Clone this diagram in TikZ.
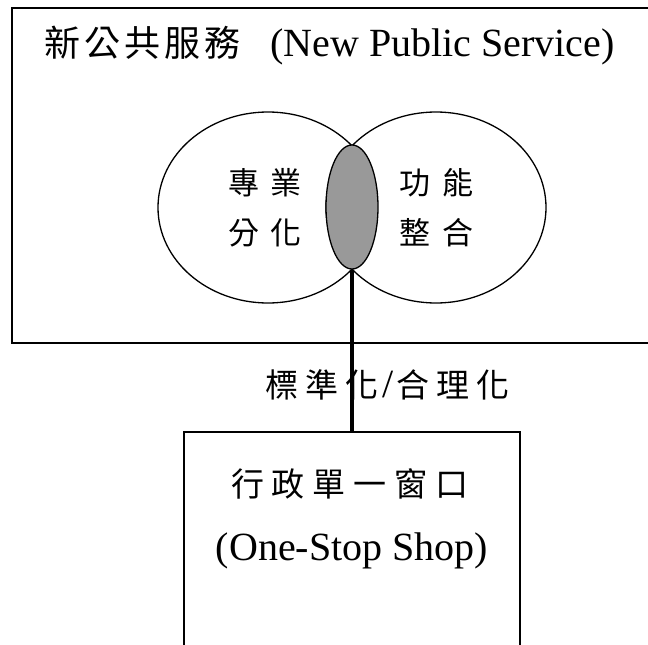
\documentclass[tikz,border=0pt]{standalone}
\usepackage{fontspec}
\setmainfont{Liberation Serif}
\newfontfamily\cjk{Noto Sans CJK TC}
\usetikzlibrary{shapes.geometric}
\definecolor{lensgray}{RGB}{153,153,153}
\makeatletter
\newcommand\spreadcjk[2]{\def\sc@w{#1}\sc@loop#2\@nil}
\def\sc@loop#1{\ifx#1\@nil\else\makebox[\sc@w]{#1}\expandafter\sc@loop\fi}
\makeatother
\tikzset{
  frame/.style={draw, line width=1.3pt, rectangle, inner sep=0pt},
  oval/.style={draw, line width=1.3pt, ellipse, inner sep=0pt, fill=white,
               minimum width=220pt, minimum height=191pt},
  lensnode/.style={draw, line width=1.3pt, ellipse, inner sep=0pt, fill=lensgray,
               minimum width=52pt, minimum height=124pt},
  cjktext/.style={inner sep=0pt, font=\cjk\fontsize{31}{36}\selectfont},
  link/.style={line width=3.5pt}
}
\begin{document}
\begin{tikzpicture}[x=1pt,y=-1pt]
\useasboundingbox (0,0) rectangle (648,645);
\clip (0,0) rectangle (648,645);
% outer frame
\node[frame, minimum width=658pt, minimum height=335pt] (nps) at (341,175.5) {};
\node[inner sep=0pt, anchor=base west] (title) at (42,56)
  {{\cjk\fontsize{36}{40}\selectfont\spreadcjk{40pt}{新公共服務}}\hspace{28pt}{\fontsize{40}{46}\selectfont(New Public Service)}};
% circles
\node[oval] (spec) at (268,207.5) {};
\node[oval] (func) at (436,207.5) {};
\node[lensnode] (lens) at (352,207) {};
% circle texts
\node[cjktext] (t1) at (265,182.5) {\spreadcjk{43pt}{專業}};
\node[cjktext] (t2) at (265,233) {\spreadcjk{43pt}{分化}};
\node[cjktext] (t3) at (436,182.5) {\spreadcjk{43pt}{功能}};
\node[cjktext] (t4) at (436,233) {\spreadcjk{43pt}{整合}};
% label
\node[inner sep=0pt, anchor=base west] (lbl) at (262,397)
  {{\cjk\fontsize{33}{38}\selectfont\spreadcjk{40pt}{標準化}}{\fontsize{40}{46}\selectfont/}{\cjk\fontsize{33}{38}\selectfont\spreadcjk{40pt}{合理化}}};
% bottom box
\node[frame, minimum width=336pt, minimum height=228pt] (shop) at (352,546) {};
\node[cjktext, font=\cjk\fontsize{33}{38}\selectfont] (s1) at (350,484) {\spreadcjk{41pt}{行政單一窗口}};
\node[inner sep=0pt, anchor=base, font=\fontsize{40}{46}\selectfont] (s2) at (352,560) {(One-Stop Shop)};
% connector
\draw[link] (lens.south) -- (shop.north);
\end{tikzpicture}
\end{document}
